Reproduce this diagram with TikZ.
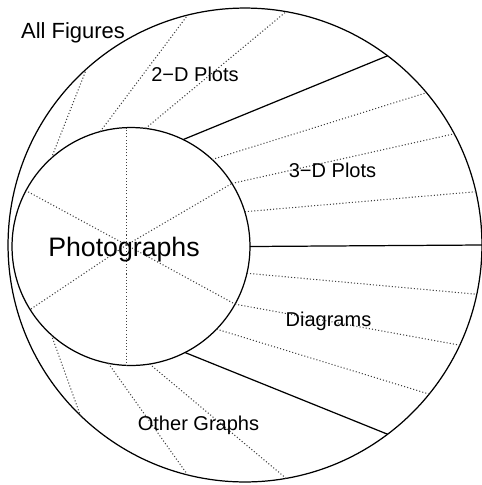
\documentclass[tikz,border=0pt]{standalone}
\usepackage{fontspec}
\setmainfont{Liberation Sans}
\usetikzlibrary{calc}
\tikzset{
  region/.style={circle, draw=black, line width=0.7pt, inner sep=0pt, outer sep=0pt},
  cut/.style={draw=black, line width=0.7pt},
  subcut/.style={draw=black!75, line width=0.6pt, dash pattern=on 0.6pt off 1.2pt},
  tag/.style={anchor=base, inner sep=0pt, font=\fontsize{11.4}{13}\selectfont}
}
\begin{document}
\begin{tikzpicture}[x=0.02cm,y=-0.02cm]
    \useasboundingbox (0,0) rectangle (482,485);
    \node[region,minimum size=9.48cm] (all) at (245,245) {};
    \node[region,minimum size=4.76cm] (photo) at (131,246.5) {};
    \coordinate (hub) at (126.5,245);
    % spokes of the inner circle
    \draw[subcut] (hub) -- (hub |- photo.north);
    \draw[subcut] (hub) -- (hub |- photo.south);
    \draw[subcut] (hub) -- (photo.152);
    \draw[subcut] (hub) -- (photo.212);
    \draw[subcut] (hub) -- (photo.32);
    \draw[subcut] (hub) -- (photo.-29);
    % main borders
    \draw[cut] (photo.64) -- (all.53);
    \draw[cut] (photo.east) -- (all.east);
    \draw[cut] (photo.-63) -- (all.-53);
    % 2-D plots
    \draw[subcut] (photo.132) -- (all.132);
    \draw[subcut] (photo.105) -- (all.104);
    \draw[subcut] (photo.83) -- (all.80);
    % 3-D plots
    \draw[subcut] (photo.47) -- (all.40);
    \draw[subcut] (photo.32) -- (all.28);
    \draw[subcut] (photo.17) -- (all.13);
    % diagrams
    \draw[subcut] (photo.-13) -- (all.-12);
    \draw[subcut] (photo.-29) -- (all.-25);
    \draw[subcut] (photo.-44) -- (all.-39);
    % other graphs
    \draw[subcut] (photo.-81) -- (all.-80);
    \draw[subcut] (photo.-101) -- (all.-104);
    \draw[subcut] (photo.-132) -- (all.-134);
    % labels
    \node[tag,font=\fontsize{12.5}{14}\selectfont] (alltag) at (73,38) {All Figures};
    \node[tag] (plots2) at (195,81) {2−D Plots};
    \node[tag] (plots3) at (332.5,177) {3−D Plots};
    \node[tag,font=\fontsize{15.2}{17}\selectfont] (phototag) at (124,256) {Photographs};
    \node[tag] (diagtag) at (328.5,326) {Diagrams};
    \node[tag] (othertag) at (198.5,430) {Other Graphs};
\end{tikzpicture}
\end{document}
